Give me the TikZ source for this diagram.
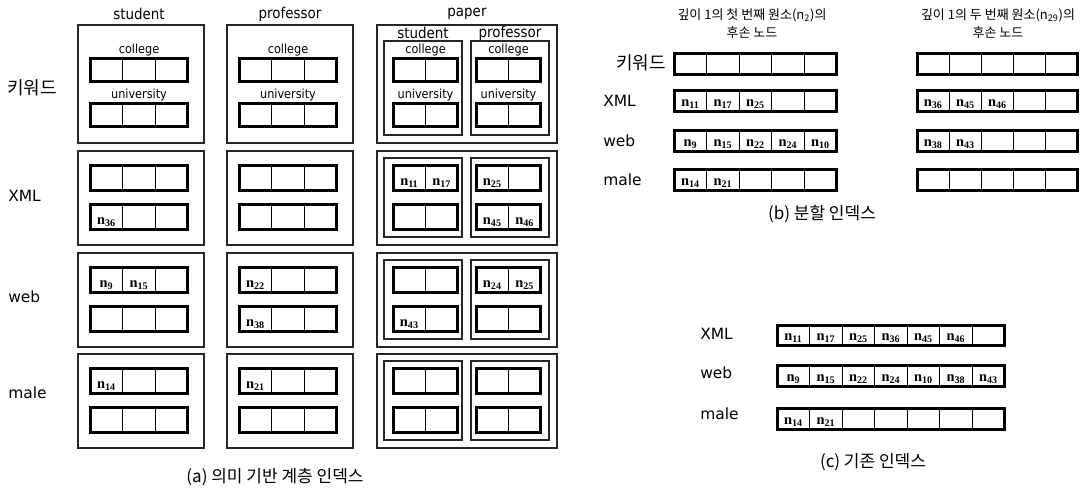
\documentclass[tikz,border=0pt]{standalone}
\usepackage{fontspec}
\setmainfont{DejaVu Sans}
\newfontfamily\condfont{DejaVu Sans Condensed}
\newfontfamily\krfont{Noto Sans CJK KR}
\newfontfamily\numfont{Liberation Serif}
% #1 x1, #2 y1, #3 x2, #4 y2, #5 number of cells, #6 subscripts of filled cells, #7 name prefix
\newcommand\cellrow[7]{%
  \pgfmathsetmacro\crw{(#3-#1)/#5}%
  \pgfmathtruncatemacro\crn{#5-1}%
  \foreach \k in {1,...,\crn}{\draw[divider] ({#1+\k*\crw},#2) -- ({#1+\k*\crw},#4);}%
  \draw[thickbox] (#1,#2) rectangle (#3,#4);%
  \def\crentries{#6}%
  \ifx\crentries\empty\else
    \foreach \s [count=\k] in {#6}{\node[cellnum] (#7-\k) at ({#1+(\k-0.5)*\crw},{#4-5.5}) {n\textsubscript{\s}};}%
  \fi
}
\begin{document}
\begin{tikzpicture}[x=0.75pt,y=-0.75pt,
  thickbox/.style={line width=2.4pt},
  divider/.style={line width=0.8pt},
  outerbox/.style={line width=1.1pt, draw=black!85},
  cellnum/.style={font=\numfont\bfseries\fontsize{10.8}{11}\selectfont, anchor=base, inner sep=0pt},
  rowlabel/.style={font=\fontsize{11.6}{12}\selectfont, anchor=west, inner sep=0pt},
  header/.style={font=\condfont\fontsize{11.2}{12}\selectfont, inner sep=0pt},
  sublabel/.style={font=\condfont\fontsize{9.4}{10}\selectfont, inner sep=0pt},
  krlabel/.style={font=\krfont\fontsize{13.5}{14}\selectfont, inner sep=0pt},
  caption/.style={font=\krfont\fontsize{12.75}{14}\selectfont, inner sep=0pt},
  titletext/.style={font=\krfont\fontsize{9.75}{13.5}\selectfont, inner sep=0pt, align=center}
]
\useasboundingbox[fill=white] (0,0) rectangle (1089,488);

% ---------------- (a) ----------------
\node[header] (hstud) at (139,14) {student};
\node[header] (hprof) at (290,14) {professor};
\node[header] (hpaper) at (467,14) {paper};

\node[krlabel, anchor=west] (lkw) at (7,88) {키워드};
\node[rowlabel] (lxml) at (8,196) {XML};
\node[rowlabel] (lweb) at (8,297) {web};
\node[rowlabel] (lmale) at (8,393) {male};

% outer boxes
\foreach \t/\b in {25/143,151/245,253/347,354/448}{
  \draw[outerbox] (78,\t) rectangle (204,\b);
  \draw[outerbox] (227,\t) rectangle (353,\b);
  \draw[outerbox] (377,\t) rectangle (557,\b);
}
% paper inner boxes
\draw[outerbox] (384,41) rectangle (462,135);
\draw[outerbox] (471,41) rectangle (549,135);
\foreach \t/\b in {151/245,253/347,354/448}{
  \draw[outerbox] (384,\t+7) rectangle (462,\b-8);
  \draw[outerbox] (471,\t+7) rectangle (549,\b-8);
}
\node[header] (pstud) at (423,33) {student};
\node[header] (pprof) at (510,33) {professor};

% row 1 labels
\foreach \cx/\nm in {139/a,288/b,425.5/c,508.5/d}{
  \node[sublabel] (col-\nm) at (\cx,50) {college};
  \node[sublabel] (uni-\nm) at (\cx,95) {university};
}
% row 1 arrays
\cellrow{90.2}{58.2}{187.8}{81.8}{3}{}{a1}
\cellrow{90.2}{103.2}{187.8}{126.8}{3}{}{a2}
\cellrow{239.2}{58.2}{336.8}{81.8}{3}{}{a3}
\cellrow{239.2}{103.2}{336.8}{126.8}{3}{}{a4}
\cellrow{393.2}{58.2}{457.8}{81.8}{2}{}{a5}
\cellrow{393.2}{103.2}{457.8}{126.8}{2}{}{a6}
\cellrow{476.2}{58.2}{540.8}{81.8}{2}{}{a7}
\cellrow{476.2}{103.2}{540.8}{126.8}{2}{}{a8}

% row 2 (XML), top 151
\cellrow{90.2}{165.2}{187.8}{190.8}{3}{}{x1}
\cellrow{90.2}{204.2}{187.8}{229.8}{3}{36}{x2}
\cellrow{239.2}{165.2}{336.8}{190.8}{3}{}{x3}
\cellrow{239.2}{204.2}{336.8}{229.8}{3}{}{x4}
\cellrow{393.2}{165.2}{457.8}{190.8}{2}{11,17}{x5}
\cellrow{393.2}{204.2}{457.8}{229.8}{2}{}{x6}
\cellrow{476.2}{165.2}{540.8}{190.8}{2}{25}{x7}
\cellrow{476.2}{204.2}{540.8}{229.8}{2}{45,46}{x8}

% row 3 (web), top 253
\cellrow{90.2}{267.2}{187.8}{292.8}{3}{9,15}{w1}
\cellrow{90.2}{306.2}{187.8}{331.8}{3}{}{w2}
\cellrow{239.2}{267.2}{336.8}{292.8}{3}{22}{w3}
\cellrow{239.2}{306.2}{336.8}{331.8}{3}{38}{w4}
\cellrow{393.2}{267.2}{457.8}{292.8}{2}{}{w5}
\cellrow{393.2}{306.2}{457.8}{331.8}{2}{43}{w6}
\cellrow{476.2}{267.2}{540.8}{292.8}{2}{24,25}{w7}
\cellrow{476.2}{306.2}{540.8}{331.8}{2}{}{w8}

% row 4 (male), top 354
\cellrow{90.2}{368.2}{187.8}{393.8}{3}{14}{m1}
\cellrow{90.2}{407.2}{187.8}{432.8}{3}{}{m2}
\cellrow{239.2}{368.2}{336.8}{393.8}{3}{21}{m3}
\cellrow{239.2}{407.2}{336.8}{432.8}{3}{}{m4}
\cellrow{393.2}{368.2}{457.8}{393.8}{2}{}{m5}
\cellrow{393.2}{407.2}{457.8}{432.8}{2}{}{m6}
\cellrow{476.2}{368.2}{540.8}{393.8}{2}{}{m7}
\cellrow{476.2}{407.2}{540.8}{432.8}{2}{}{m8}

\node[caption] (capa) at (275,477) {(a) 의미 기반 계층 인덱스};

% ---------------- (b) ----------------
\node[titletext] (tb1) at (752,24) {깊이 1의 첫 번째 원소(n\textsubscript{2})의\\후손 노드};
\node[titletext] (tb2) at (998,24) {깊이 1의 두 번째 원소(n\textsubscript{29})의\\후손 노드};

\node[krlabel, anchor=east] (bkw) at (666,63) {키워드};
\node[rowlabel] (bxml) at (603,101) {XML};
\node[rowlabel] (bweb) at (603,141) {web};
\node[rowlabel] (bmale) at (603,180) {male};

\cellrow{674.2}{53.2}{836.8}{74.8}{5}{}{b1}
\cellrow{674.2}{90.2}{836.8}{111.8}{5}{11,17,25}{b2}
\cellrow{674.2}{130.2}{836.8}{151.8}{5}{9,15,22,24,10}{b3}
\cellrow{674.2}{169.2}{836.8}{190.8}{5}{14,21}{b4}
\cellrow{917.2}{53.2}{1077.8}{74.8}{5}{}{b5}
\cellrow{917.2}{90.2}{1077.8}{111.8}{5}{36,45,46}{b6}
\cellrow{917.2}{130.2}{1077.8}{151.8}{5}{38,43}{b7}
\cellrow{917.2}{169.2}{1077.8}{190.8}{5}{}{b8}

\node[caption] (capb) at (822,214) {(b) 분할 인덱스};

% ---------------- (c) ----------------
\node[rowlabel] (cxml) at (700,334) {XML};
\node[rowlabel] (cweb) at (700,373) {web};
\node[rowlabel] (cmale) at (700,414) {male};

\cellrow{777.2}{325.2}{1004.8}{345.8}{7}{11,17,25,36,45,46}{c1}
\cellrow{777.2}{365.2}{1004.8}{386.8}{7}{9,15,22,24,10,38,43}{c2}
\cellrow{777.2}{408.2}{1004.8}{429.8}{7}{14,21}{c3}

\node[caption] (capc) at (873,462) {(c) 기존 인덱스};
\end{tikzpicture}
\end{document}
